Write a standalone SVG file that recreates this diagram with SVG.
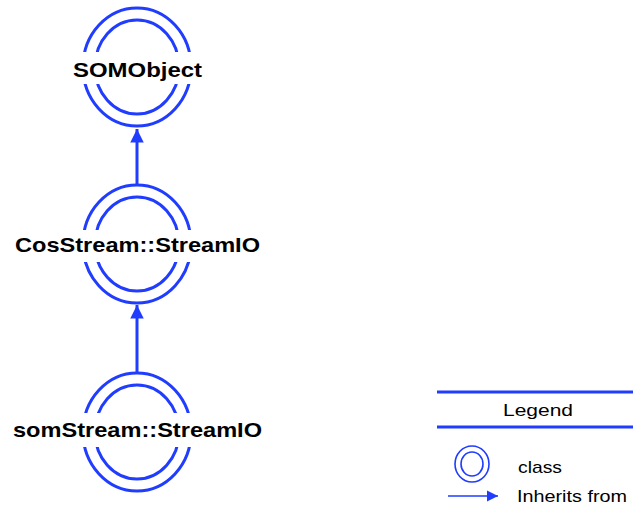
<svg xmlns="http://www.w3.org/2000/svg" width="633" height="508" viewBox="0 0 633 508">
<style>
.ring{fill:none;stroke:#1f3cff;stroke-width:3}
.lring{fill:none;stroke:#1f3cff;stroke-width:1.6}
.bg{fill:#ffffff}
.lbl{font-family:"Liberation Sans",Arial,sans-serif;font-weight:bold;font-size:21px;fill:#000;text-anchor:middle}
.leg{font-family:"Liberation Sans",Arial,sans-serif;font-size:17px;fill:#000}
.edge{stroke:#1f3cff;stroke-width:3;fill:none}
</style>
<defs>
<marker id="ah" viewBox="0 0 10 10" refX="10" refY="5" markerWidth="4.5" markerHeight="4.5" orient="auto" markerUnits="strokeWidth">
<path d="M0,0 L10,5 L0,10 z" fill="#1f3cff"/>
</marker>
<marker id="ahs" viewBox="0 0 10 10" refX="10" refY="5" markerWidth="7" markerHeight="7" orient="auto" markerUnits="strokeWidth">
<path d="M0,0 L10,5 L0,10 z" fill="#1f3cff"/>
</marker>
</defs>
<g id="connectors">
<line class="edge" x1="137" y1="185" x2="137" y2="129" marker-end="url(#ah)"/>
<line class="edge" x1="137" y1="373" x2="137" y2="305" marker-end="url(#ah)"/>
</g>
<g id="SOMObject">
<ellipse class="ring" cx="137" cy="67" rx="54" ry="59"/>
<ellipse class="ring" cx="137" cy="67" rx="42" ry="47"/>
<rect class="bg" x="70" y="52" width="134" height="32"/>
<text class="lbl" x="137.5" y="77" textLength="129" lengthAdjust="spacingAndGlyphs">SOMObject</text>
</g>
<g id="CosStream_StreamIO">
<ellipse class="ring" cx="137" cy="244" rx="54" ry="59"/>
<ellipse class="ring" cx="137" cy="244" rx="42" ry="47"/>
<rect class="bg" x="12" y="230" width="252" height="32"/>
<text class="lbl" x="137.5" y="252" textLength="245" lengthAdjust="spacingAndGlyphs">CosStream::StreamIO</text>
</g>
<g id="somStream_StreamIO">
<ellipse class="ring" cx="137" cy="432" rx="54" ry="59"/>
<ellipse class="ring" cx="137" cy="432" rx="42" ry="47"/>
<rect class="bg" x="10" y="413" width="256" height="34"/>
<text class="lbl" x="137.5" y="437" textLength="249" lengthAdjust="spacingAndGlyphs">somStream::StreamIO</text>
</g>
<g id="legend">
<line x1="437" y1="392" x2="633" y2="392" stroke="#1f3cff" stroke-width="3"/>
<line x1="437" y1="427" x2="633" y2="427" stroke="#1f3cff" stroke-width="3"/>
<text class="leg" x="503" y="416" textLength="70" lengthAdjust="spacingAndGlyphs">Legend</text>
<ellipse class="lring" cx="472" cy="464" rx="17" ry="18"/>
<ellipse class="lring" cx="472" cy="464" rx="11" ry="12"/>
<text class="leg" x="518" y="473" textLength="44" lengthAdjust="spacingAndGlyphs">class</text>
<line x1="448" y1="496" x2="498" y2="496" stroke="#1f3cff" stroke-width="1.6" marker-end="url(#ahs)"/>
<text class="leg" x="517" y="502" textLength="110" lengthAdjust="spacingAndGlyphs">Inherits from</text>
</g>
</svg>
